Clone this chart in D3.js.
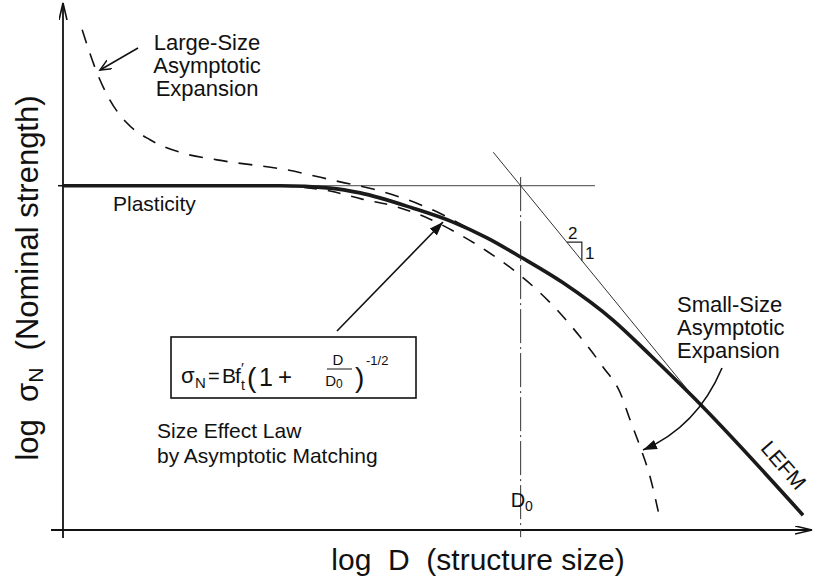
<!DOCTYPE html>
<html>
<head>
<meta charset="utf-8">
<script src="https://cdn.jsdelivr.net/npm/d3@7"></script>
<style>
  body { margin: 0; background: #fff; }
  text { font-family: "Liberation Sans", Arial, Helvetica, sans-serif; fill: #111; white-space: pre; }
</style>
</head>
<body>
<svg id="chart" width="815" height="583"></svg>
<script>
// curves: [log(D/D0), log(sigmaN / B f't)]
var sizeEffectLaw = [[-2.34, 0], [-1.23, 0], [-0.975, -0.005], [-0.821, -0.015], [-0.55, -0.047],
    [-0.346, -0.076], [-0.172, -0.109], [0, -0.149], [0.217, -0.203], [0.472, -0.281],
    [0.662, -0.354], [0.882, -0.442], [1.444, -0.689]];
var largeSizeExpansion = [[-2.242, 0.326], [-2.166, 0.236], [-2.1, 0.179], [-2.013, 0.131], [-1.895, 0.096],
    [-1.726, 0.068], [-1.552, 0.054], [-1.194, 0.033], [-0.923, 0.008], [-0.755, -0.007],
    [-0.601, -0.026], [-0.448, -0.051], [-0.259, -0.091]];
var smallSizeExpansion = [[-1.23, 0], [-0.975, -0.011], [-0.811, -0.028], [-0.652, -0.042], [-0.463, -0.07],
    [-0.325, -0.099], [-0.172, -0.137], [-0.044, -0.174], [0.084, -0.218], [0.196, -0.264],
    [0.304, -0.316], [0.421, -0.379], [0.509, -0.433], [0.56, -0.49], [0.611, -0.546],
    [0.662, -0.609], [0.713, -0.699]];
var plasticityLine = [[-2.34, 0], [0.38, 0]];
var lefmLine = [[-0.14, 0.07], [0.88, -0.44]];
var d0Line = [[0, 0.018], [0, -0.735]];
var slopeTriangle = [[0.236, -0.118], [0.313, -0.118], [0.313, -0.157]];

var xTitle = "log  D  (structure size)";
var yTitle = ["log  σ", "N", "  (Nominal strength)"];
var largeLabel = ["Large-Size", "Asymptotic", "Expansion"];
var smallLabel = ["Small-Size", "Asymptotic", "Expansion"];
var lawLabel = ["Size Effect Law", "by Asymptotic Matching"];

var svg = d3.select("#chart");
var x = d3.scaleLinear().domain([-2.34, 1.5]).range([63, 814]);
var y = d3.scaleLinear().domain([-0.72, 0.38]).range([530, 4]);

var line = d3.line().x(function (d) { return x(d[0]); }).y(function (d) { return y(d[1]); });
var smooth = d3.line().x(function (d) { return x(d[0]); }).y(function (d) { return y(d[1]); })
    .curve(d3.curveMonotoneX);

// arrow heads
var defs = svg.append("defs");
defs.append("marker").attr("id", "solidHead")
    .attr("markerUnits", "userSpaceOnUse").attr("markerWidth", 16).attr("markerHeight", 12)
    .attr("refX", 14).attr("refY", 5).attr("orient", "auto")
    .append("path").attr("d", "M0,0 L14,5 L0,10 Z").style("fill", "#111");
defs.append("marker").attr("id", "openHead")
    .attr("markerUnits", "userSpaceOnUse").attr("markerWidth", 14).attr("markerHeight", 12)
    .attr("refX", 11).attr("refY", 5).attr("orient", "auto")
    .append("path").attr("d", "M0,0 L11,5 L0,10").style("fill", "none").style("stroke", "#111").style("stroke-width", 1.5);
defs.append("marker").attr("id", "axisHead")
    .attr("markerUnits", "userSpaceOnUse").attr("markerWidth", 20).attr("markerHeight", 12)
    .attr("refX", 17).attr("refY", 4).attr("orient", "auto")
    .append("path").attr("d", "M0,0 L17,4 L0,8").style("fill", "none").style("stroke", "#111").style("stroke-width", 1.6);

// axes (no ticks, just arrows)
svg.append("line").attr("x1", x.range()[0] - 12).attr("y1", y.range()[0])
    .attr("x2", 812).attr("y2", y.range()[0])
    .style("stroke", "#111").style("stroke-width", 1.8).attr("marker-end", "url(#axisHead)");
svg.append("line").attr("x1", x.range()[0]).attr("y1", y.range()[0] + 8)
    .attr("x2", x.range()[0]).attr("y2", 3)
    .style("stroke", "#111").style("stroke-width", 1.8).attr("marker-end", "url(#axisHead)");
svg.append("line").attr("x1", x.range()[0] - 5).attr("x2", x.range()[0])
    .attr("y1", y(0)).attr("y2", y(0)).style("stroke", "#111").style("stroke-width", 1.5);

// thin asymptotes and D0 marker
svg.append("path").attr("d", line(plasticityLine)).style("fill", "none").style("stroke", "#444").style("stroke-width", 1);
svg.append("path").attr("d", line(lefmLine)).style("fill", "none").style("stroke", "#333").style("stroke-width", 1);
svg.append("path").attr("d", line(d0Line)).style("fill", "none").style("stroke", "#333").style("stroke-width", 1)
    .style("stroke-dasharray", "34,4,2,4");
svg.append("path").attr("d", line(slopeTriangle)).style("fill", "none").style("stroke", "#222").style("stroke-width", 1.2);

// dashed asymptotic expansions
svg.append("path").attr("d", smooth(largeSizeExpansion)).style("fill", "none")
    .style("stroke", "#111").style("stroke-width", 1.6).style("stroke-dasharray", "14,11");
svg.append("path").attr("d", smooth(smallSizeExpansion)).style("fill", "none")
    .style("stroke", "#111").style("stroke-width", 1.6).style("stroke-dasharray", "13,11");

// the size effect law itself
svg.append("path").attr("d", smooth(sizeEffectLaw)).style("fill", "none")
    .style("stroke", "#1a1a1a").style("stroke-width", 3.6).style("stroke-linecap", "butt");

// labels
function block(lines, px, py, step, anchor, size) {
    var t = svg.append("text").attr("text-anchor", anchor).style("font-size", size + "px");
    lines.forEach(function (s, i) {
        t.append("tspan").attr("x", px).attr("y", py + i * step).text(s);
    });
    return t;
}
block(largeLabel, 207, 50, 23, "middle", 22);
block(smallLabel, 677, 312, 23, "start", 22);
block(lawLabel, 157, 438, 25, "start", 21);
block(["Plasticity"], 113, 211, 0, "start", 21);

svg.append("text").attr("x", 568).attr("y", 239).style("font-size", "17px").text("2");
svg.append("text").attr("x", 585).attr("y", 259).style("font-size", "17px").text("1");

var d0 = svg.append("text").attr("x", x(0) - 10).attr("y", 507).style("font-size", "20px").text("D");
d0.append("tspan").attr("dy", 4).style("font-size", "14px").text("0");

svg.append("text").attr("transform", "translate(778,470) rotate(49)")
    .attr("text-anchor", "middle").style("font-size", "21px").text("LEFM");

// axis titles
svg.append("text").attr("x", 478).attr("y", 570).attr("text-anchor", "middle")
    .style("font-size", "30px").text(xTitle);
var yt = svg.append("text").attr("transform", "translate(38,278) rotate(-90)")
    .attr("text-anchor", "middle").style("font-size", "31px");
yt.append("tspan").text(yTitle[0]);
yt.append("tspan").attr("dy", 5).style("font-size", "21px").text(yTitle[1]);
yt.append("tspan").attr("dy", -5).text(yTitle[2]);

// formula box: sigma_N = B f't (1 + D/D0)^-1/2
svg.append("rect").attr("x", 171).attr("y", 337).attr("width", 245).attr("height", 61)
    .style("fill", "#fff").style("stroke", "#111").style("stroke-width", 1.6);
function put(str, px, py, size) {
    return svg.append("text").attr("x", px).attr("y", py).style("font-size", size + "px").text(str);
}
put("σ", 181, 383, 22);
put("N", 195, 388, 15);
put("=", 208, 383, 20);
put("B", 222, 383, 21);
put("f", 235, 383, 21);
put("′", 241, 373, 15);
put("t", 241, 390, 14);
put("(", 247, 387, 28);
put("1", 259, 386, 25);
put("+", 278, 385, 24);
svg.append("text").attr("x", 338).attr("y", 365).attr("text-anchor", "middle").style("font-size", "15px").text("D");
svg.append("line").attr("x1", 327).attr("x2", 352).attr("y1", 369).attr("y2", 369).style("stroke", "#111").style("stroke-width", 1);
var den = svg.append("text").attr("x", 334).attr("y", 386).attr("text-anchor", "middle").style("font-size", "15px").text("D");
den.append("tspan").attr("dy", 2).style("font-size", "12px").text("0");
put(")", 355, 387, 28);
put("-1/2", 366, 365, 13);

// pointer arrows
svg.append("line").attr("x1", 138).attr("y1", 48).attr("x2", 100).attr("y2", 70)
    .style("stroke", "#111").style("stroke-width", 1.5).attr("marker-end", "url(#openHead)");
svg.append("line").attr("x1", 337).attr("y1", 331).attr("x2", 443).attr("y2", 222)
    .style("stroke", "#111").style("stroke-width", 1.6).attr("marker-end", "url(#solidHead)");
svg.append("path").attr("d", "M722,368 Q697,427 643,450").style("fill", "none")
    .style("stroke", "#111").style("stroke-width", 1.6).attr("marker-end", "url(#solidHead)");
</script>
</body>
</html>
